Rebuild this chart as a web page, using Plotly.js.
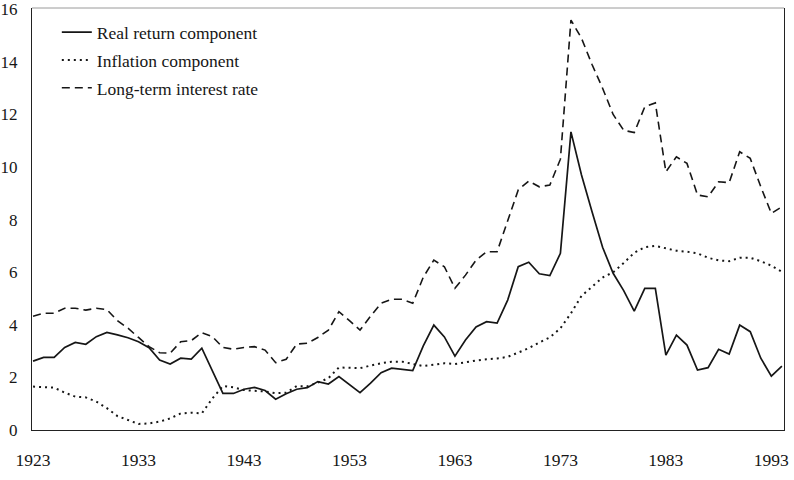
<!DOCTYPE html>
<html>
<head>
<meta charset="utf-8">
<script src="https://cdn.plot.ly/plotly-3.0.1.min.js"></script>
<style>
  html, body { margin: 0; padding: 0; background: #fff; }
  #chart { width: 794px; height: 480px; }
</style>
</head>
<body>
<div id="chart"></div>
<script>
// Annual series, 1923-1994 (percent)
const years = [];
for (let y = 1923; y <= 1994; y++) years.push(y);

const realReturn = [
  2.62, 2.76, 2.76, 3.14, 3.33, 3.26, 3.55, 3.71, 3.62, 3.51,
  3.36, 3.13, 2.66, 2.51, 2.73, 2.70, 3.11, 2.25, 1.39, 1.39,
  1.55, 1.62, 1.50, 1.17, 1.38, 1.55, 1.61, 1.84, 1.75, 2.03,
  1.72, 1.42, 1.78, 2.18, 2.35, 2.31, 2.26, 3.20, 3.99, 3.54,
  2.81, 3.42, 3.92, 4.12, 4.07, 4.94, 6.21, 6.38, 5.94, 5.87,
  6.72, 11.34, 9.70, 8.30, 6.95, 5.96, 5.30, 4.52, 5.39, 5.39,
  2.85, 3.61, 3.23, 2.28, 2.37, 3.07, 2.89, 3.99, 3.74, 2.73,
  2.05, 2.43
];

const inflation = [
  1.65, 1.62, 1.61, 1.42, 1.27, 1.24, 1.08, 0.83, 0.53, 0.38,
  0.23, 0.25, 0.32, 0.44, 0.63, 0.66, 0.63, 1.20, 1.67, 1.62,
  1.52, 1.49, 1.47, 1.40, 1.42, 1.67, 1.66, 1.80, 1.97, 2.38,
  2.36, 2.35, 2.45, 2.54, 2.60, 2.60, 2.51, 2.43, 2.48, 2.54,
  2.51, 2.58, 2.64, 2.69, 2.72, 2.78, 2.95, 3.11, 3.33, 3.52,
  3.87, 4.44, 5.10, 5.45, 5.80, 6.00, 6.35, 6.74, 6.95, 7.00,
  6.90, 6.82, 6.78, 6.72, 6.55, 6.45, 6.42, 6.55, 6.55, 6.42,
  6.25, 6.02
];

const longRate = [
  4.33, 4.44, 4.44, 4.63, 4.63, 4.56, 4.63, 4.58, 4.16, 3.87,
  3.52, 3.17, 2.94, 2.92, 3.36, 3.40, 3.70, 3.55, 3.14, 3.07,
  3.14, 3.17, 3.04, 2.56, 2.69, 3.27, 3.30, 3.52, 3.80, 4.50,
  4.16, 3.80, 4.33, 4.82, 4.97, 4.97, 4.82, 5.81, 6.46, 6.21,
  5.39, 5.89, 6.46, 6.78, 6.78, 8.00, 9.13, 9.47, 9.25, 9.32,
  10.30, 15.59, 14.90, 13.90, 13.00, 12.00, 11.40, 11.31, 12.29, 12.44,
  9.82, 10.39, 10.14, 8.94, 8.87, 9.44, 9.41, 10.58, 10.33, 9.25,
  8.24, 8.49
];

const seriesNames = ['Real return component', 'Inflation component', 'Long-term interest rate'];
const xTicks = [1923, 1933, 1943, 1953, 1963, 1973, 1983, 1993];
const yTicks = [0, 2, 4, 6, 8, 10, 12, 14, 16];

const ink = '#161616';
const serif = 'Liberation Serif, Times New Roman, serif';

const traces = [
  { x: years, y: realReturn, name: seriesNames[0], mode: 'lines',
    line: { color: ink, width: 1.7 }, legendgroup: 'a' },
  { x: years, y: inflation, name: seriesNames[1], mode: 'lines',
    line: { color: ink, width: 2, dash: '2px,4px' }, legendgroup: 'b' },
  { x: years, y: longRate, name: seriesNames[2], mode: 'lines',
    line: { color: ink, width: 1.6, dash: '8px,5px' }, legendgroup: 'c' }
];

const layout = {
  width: 794, height: 480,
  margin: { l: 32, r: 10, t: 8, b: 50 },
  paper_bgcolor: '#fff', plot_bgcolor: '#fff',
  font: { family: serif, size: 17.5, color: ink },
  showlegend: true,
  legend: {
    x: 0.033, y: 0.985, xanchor: 'left', yanchor: 'top',
    bgcolor: 'rgba(0,0,0,0)', borderwidth: 0,
    font: { family: serif, size: 17.5, color: ink },
    tracegroupgap: 2, itemwidth: 30
  },
  xaxis: {
    range: [1922.9, 1994.2], tickvals: xTicks, ticktext: xTicks.map(String),
    showgrid: false, zeroline: false, ticks: '',
    showline: true, linecolor: '#222', linewidth: 1.2,
    ticklabelstandoff: 14,
    tickfont: { family: serif, size: 17.5, color: ink }
  },
  yaxis: {
    range: [0, 16.05], tickvals: yTicks, ticktext: yTicks.map(String),
    showgrid: false, zeroline: false, ticks: '',
    showline: true, mirror: true, linecolor: '#222', linewidth: 1.2,
    ticklabelstandoff: 10,
    tickfont: { family: serif, size: 17, color: ink }
  },
  shapes: [
    { type: 'line', xref: 'paper', yref: 'paper', x0: 0, x1: 1, y0: 1, y1: 1,
      line: { color: '#9a9a9a', width: 1 } }
  ]
};

Plotly.newPlot('chart', traces, layout, { displayModeBar: false, staticPlot: true });
</script>
</body>
</html>
